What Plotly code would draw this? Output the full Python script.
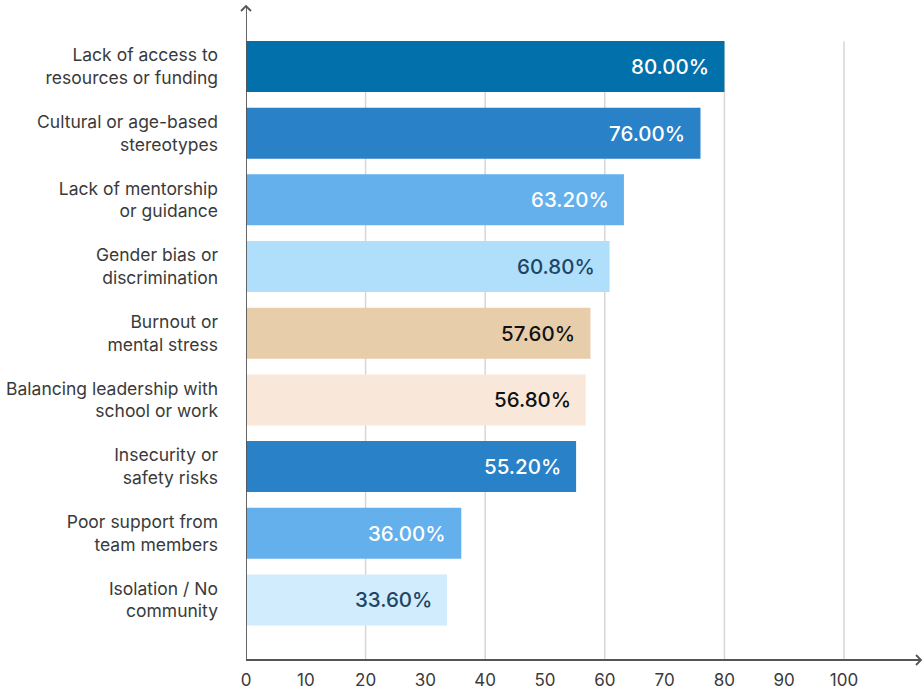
import plotly.graph_objects as go

categories = [
    "Lack of access to<br>resources or funding",
    "Cultural or age-based<br>stereotypes",
    "Lack of mentorship<br>or guidance",
    "Gender bias or<br>discrimination",
    "Burnout or<br>mental stress",
    "Balancing leadership with<br>school or work",
    "Insecurity or<br>safety risks",
    "Poor support from<br>team members",
    "Isolation / No<br>community",
]
values = [80.0, 76.0, 63.2, 60.8, 57.6, 56.8, 55.2, 36.0, 33.6]
bar_colors = ["#0270AB", "#2981C8", "#63B0EC", "#B0DFFC", "#E8CDAB",
              "#F9E8D9", "#2981C8", "#63B0EC", "#D1ECFD"]
label_colors = ["#FFFFFF", "#FFFFFF", "#FFFFFF", "#1F4565", "#111111",
                "#111111", "#FFFFFF", "#FFFFFF", "#1F4565"]
x_ticks = [0, 10, 20, 30, 40, 50, 60, 70, 80, 90, 100]
grid_vals = [20, 40, 60, 80, 100]

FONT = "Inter"
W, H = 923, 695
ML, MR, MT, MB = 246, 2, 6, 35
PW, PH = W - ML - MR, H - MT - MB

fig = go.Figure()
fig.add_trace(go.Bar(
    y=categories, x=values, orientation="h",
    marker=dict(color=bar_colors, line=dict(width=0)),
    hoverinfo="skip",
))

# value labels
for c, v, col in zip(categories, values, label_colors):
    fig.add_annotation(x=v, y=c, xref="x", yref="y", text=f"{v:.2f}%",
                       showarrow=False, xanchor="right", xshift=-13,
                       font=dict(family=FONT, size=20.5, color=col, weight=500))

shapes = []
for g in grid_vals:
    shapes.append(dict(type="line", xref="x", yref="y", x0=g, x1=g,
                       y0=-0.38, y1=8.9, layer="below",
                       line=dict(color="#D6D6D6", width=1.5)))
# axis lines
shapes.append(dict(type="line", xref="x", yref="paper", x0=0, x1=0, y0=0, y1=1,
                   line=dict(color="#555555", width=1.8)))
shapes.append(dict(type="line", xref="paper", yref="paper", x0=0, x1=1, y0=0, y1=0,
                   line=dict(color="#555555", width=1.8)))
# arrowheads
dx, dy = 5 / PW, 5 / PH
shapes.append(dict(type="path", xref="paper", yref="paper",
                   path=f"M {-dx} {1-dy} L 0 1 L {dx} {1-dy}",
                   line=dict(color="#555555", width=1.8)))
shapes.append(dict(type="path", xref="paper", yref="paper",
                   path=f"M {1-dx} {dy} L 1 0 L {1-dx} {-dy}",
                   line=dict(color="#555555", width=1.8)))

R = PW / 5.98
fig.update_layout(
    width=W, height=H,
    margin=dict(l=ML, r=MR, t=MT, b=MB),
    paper_bgcolor="white", plot_bgcolor="white",
    bargap=0.235,
    showlegend=False,
    shapes=shapes,
    font=dict(family=FONT, color="#3A3A3A"),
    xaxis=dict(range=[0, R], tickvals=x_ticks, showgrid=False, zeroline=False,
               showline=False, ticks="", ticklabelstandoff=8,
               tickfont=dict(family=FONT, size=17, color="#3A3A3A")),
    yaxis=dict(range=[8.9, -0.907], showgrid=False, zeroline=False,
               showline=False, ticks="", ticklabelstandoff=27,
               tickfont=dict(family=FONT, size=17.5, color="#3A3A3A")),
)
fig.write_html("out.html")
